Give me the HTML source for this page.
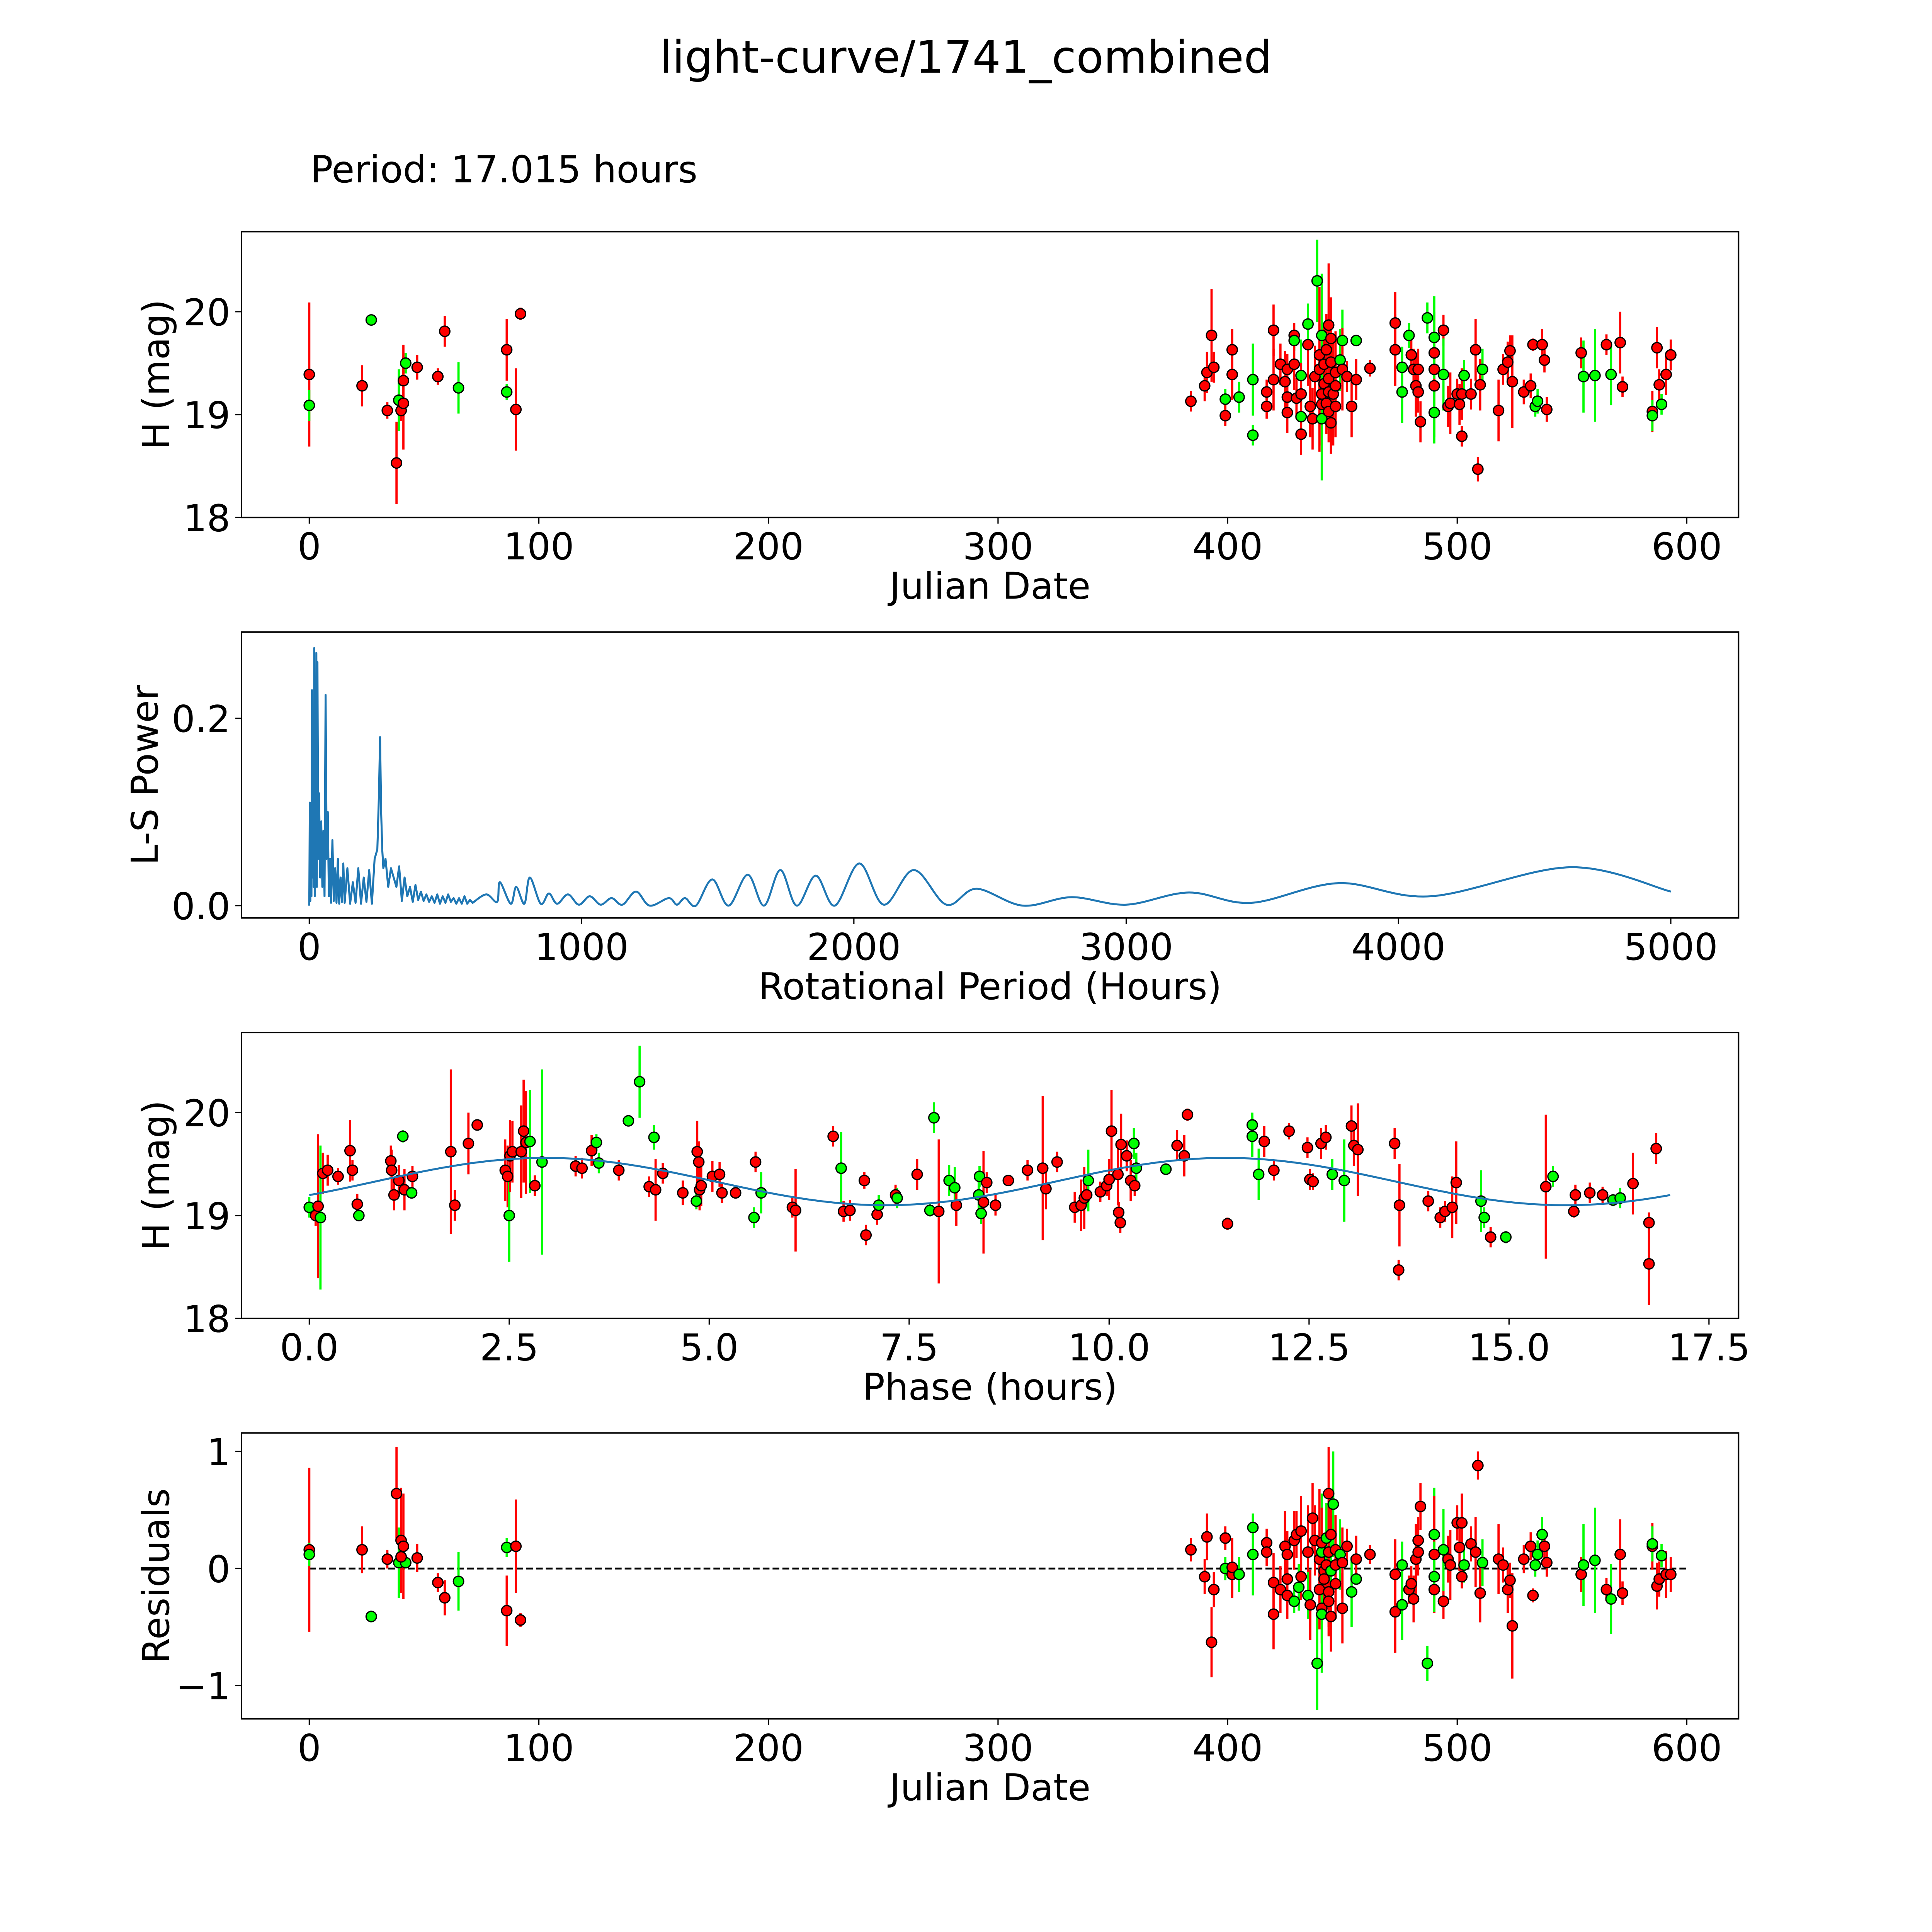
<!DOCTYPE html>
<html><head><meta charset="utf-8"><style>
html,body{margin:0;padding:0;background:#fff;overflow:hidden;width:100vw;height:100vh;}
svg{display:block;width:100vw;height:100vh;}
text{font-family:"DejaVu Sans","Liberation Sans",sans-serif;fill:#000;}
</style></head><body>
<svg id="fig" xmlns="http://www.w3.org/2000/svg" viewBox="0 0 1568 1568" preserveAspectRatio="xMinYMin meet">
<rect x="0" y="0" width="1568" height="1568" fill="#fff"/>
<text x="784" y="59" font-size="36.3" text-anchor="middle">light-curve/1741_combined</text>
<text x="252" y="148" font-size="30.2">Period: 17.015 hours</text>
</svg>
<script>
// ---- Data: [julian date, H mag, error, band] ----
const lcData = [
[0,19.39,0.7,'r'],[0,19.09,0.15,'g'],[23,19.28,0.2,'r'],[27,19.92,0.05,'g'],[34,19.04,0.08,'r'],[38,18.53,0.4,'r'],[39,19.14,0.3,'g'],[40,19.04,0.1,'r'],[41,19.11,0.45,'r'],[41,19.33,0.35,'r'],[42,19.5,0.1,'g'],[47,19.46,0.12,'r'],[56,19.37,0.08,'r'],[59,19.81,0.15,'r'],[65,19.26,0.25,'g'],
[86,19.63,0.3,'r'],[86,19.22,0.08,'g'],[90,19.05,0.4,'r'],[92,19.98,0.06,'r'],
[384,19.13,0.1,'r'],[390,19.28,0.15,'r'],[391,19.41,0.2,'r'],[393,19.77,0.45,'r'],[394,19.46,0.15,'r'],[399,19.15,0.1,'g'],[399,18.99,0.1,'r'],[402,19.63,0.2,'r'],[402,19.39,0.25,'r'],[405,19.17,0.15,'g'],[411,18.8,0.1,'g'],[411,19.34,0.35,'g'],
[417,19.22,0.12,'r'],[417,19.08,0.12,'r'],[420,19.82,0.25,'r'],[420,19.34,0.3,'r'],[423,19.49,0.2,'r'],[425,19.32,0.3,'r'],[426,19.44,0.15,'r'],[426,19.17,0.2,'r'],[426,19.02,0.2,'r'],[429,19.77,0.12,'r'],[429,19.72,0.1,'g'],[429,19.49,0.25,'r'],[430,19.16,0.2,'r'],[432,18.98,0.2,'g'],[432,19.38,0.35,'g'],[432,18.81,0.2,'r'],[432,19.2,0.3,'r'],
[435,19.68,0.4,'r'],[435,19.88,0.2,'g'],[436,19.08,0.3,'r'],[437,18.96,0.3,'r'],[438,19.37,0.3,'r'],[439,20.3,0.4,'g'],[440,19.44,0.8,'r'],[440,19.58,0.3,'r'],[441,19.2,0.3,'r'],[441,19.77,0.6,'g'],[441,19.1,0.4,'r'],[441,18.96,0.6,'g'],[442,19.3,0.3,'r'],[442,19.49,0.4,'r'],[443,19.63,0.35,'r'],[443,19.11,0.3,'r'],[444,19.22,0.3,'r'],[444,19.35,0.5,'r'],[444,19.03,0.3,'r'],[444,19.87,0.6,'r'],[445,19.74,0.4,'r'],[445,18.92,0.3,'r'],[445,19.51,0.3,'r'],[446,19.2,0.5,'r'],[447,19.41,0.4,'r'],[447,19.08,0.3,'r'],[447,19.28,0.3,'r'],[449,19.53,0.3,'g'],[450,19.72,0.3,'g'],[450,19.44,0.4,'r'],[452,19.37,0.15,'r'],[454,19.08,0.3,'r'],[456,19.72,0.05,'g'],[456,19.34,0.2,'r'],[462,19.45,0.08,'r'],
[473,19.89,0.3,'r'],[473,19.63,0.35,'r'],[476,19.22,0.3,'g'],[476,19.46,0.2,'g'],[479,19.77,0.12,'g'],[480,19.58,0.15,'r'],[481,19.44,0.2,'r'],[482,19.28,0.3,'r'],[483,19.22,0.2,'r'],[483,19.44,0.2,'r'],[484,18.93,0.2,'r'],[487,19.94,0.15,'g'],[490,19.6,0.4,'r'],[490,19.44,0.2,'r'],[490,19.28,0.5,'r'],[490,19.02,0.3,'g'],[490,19.75,0.4,'g'],[494,19.82,0.15,'r'],[494,19.39,0.35,'g'],[496,19.08,0.2,'r'],[497,19.11,0.3,'r'],[500,19.2,0.15,'r'],[501,19.1,0.2,'r'],[502,18.79,0.1,'r'],[502,19.2,0.25,'r'],[503,19.38,0.15,'g'],[506,19.2,0.15,'r'],[508,19.63,0.3,'r'],[509,18.47,0.12,'r'],[510,19.29,0.25,'r'],[511,19.44,0.2,'g'],
[518,19.04,0.3,'r'],[520,19.44,0.15,'r'],[522,19.51,0.2,'r'],[523,19.62,0.15,'r'],[524,19.32,0.45,'r'],[529,19.22,0.12,'r'],[532,19.28,0.12,'r'],[533,19.68,0.06,'r'],[534,19.08,0.1,'g'],[535,19.13,0.12,'g'],[537,19.68,0.15,'r'],[538,19.53,0.12,'r'],[539,19.05,0.12,'r'],[554,19.6,0.15,'r'],[555,19.37,0.35,'g'],[560,19.38,0.45,'g'],[565,19.68,0.1,'r'],[567,19.39,0.3,'g'],[571,19.7,0.3,'r'],[572,19.27,0.1,'r'],[585,19.03,0.2,'r'],[585,18.99,0.15,'g'],[587,19.65,0.2,'r'],[588,19.29,0.15,'r'],[589,19.1,0.1,'g'],[591,19.39,0.2,'r'],[593,19.58,0.15,'r']
];
// ---- Phase-folded data: [phase hours, H mag, error, band] ----
const phaseData = [
[0.0,19.08,0.1,'g'],[0.08,19.0,0.1,'r'],[0.11,19.09,0.7,'r'],[0.14,18.98,0.7,'g'],[0.17,19.41,0.2,'r'],[0.23,19.44,0.15,'r'],[0.36,19.38,0.08,'r'],[0.51,19.63,0.3,'r'],[0.54,19.44,0.1,'r'],[0.6,19.11,0.1,'r'],[0.62,19.0,0.05,'g'],
[1.02,19.53,0.15,'r'],[1.03,19.44,0.2,'r'],[1.06,19.2,0.15,'r'],[1.12,19.34,0.15,'r'],[1.17,19.77,0.06,'g'],[1.19,19.25,0.2,'r'],[1.28,19.22,0.05,'g'],[1.29,19.38,0.1,'r'],[1.77,19.62,0.8,'r'],[1.82,19.1,0.15,'r'],[1.99,19.7,0.3,'r'],[2.1,19.88,0.05,'r'],
[2.45,19.44,0.3,'r'],[2.48,19.38,0.3,'r'],[2.5,19.0,0.45,'g'],[2.51,19.58,0.35,'r'],[2.54,19.62,0.3,'r'],[2.65,19.62,0.45,'r'],[2.68,19.82,0.5,'r'],[2.71,19.71,0.5,'r'],[2.76,19.72,0.5,'g'],[2.82,19.29,0.1,'r'],[2.91,19.52,0.9,'g'],
[3.33,19.48,0.1,'r'],[3.41,19.46,0.1,'r'],[3.53,19.63,0.15,'r'],[3.59,19.71,0.08,'g'],[3.62,19.51,0.1,'g'],[3.87,19.44,0.1,'r'],[3.99,19.92,0.05,'g'],[4.13,20.3,0.35,'g'],[4.25,19.28,0.1,'r'],[4.31,19.76,0.12,'g'],[4.33,19.25,0.3,'r'],[4.42,19.41,0.1,'r'],
[4.67,19.22,0.12,'r'],[4.84,19.14,0.08,'g'],[4.85,19.62,0.3,'r'],[4.87,19.52,0.2,'r'],[4.88,19.25,0.2,'r'],[4.9,19.29,0.2,'r'],[5.04,19.38,0.15,'r'],[5.13,19.4,0.12,'r'],[5.16,19.22,0.1,'r'],[5.33,19.22,0.05,'r'],[5.56,18.98,0.1,'g'],[5.58,19.52,0.1,'r'],[5.65,19.22,0.2,'g'],
[6.04,19.08,0.1,'r'],[6.08,19.05,0.4,'r'],[6.55,19.77,0.1,'r'],[6.65,19.46,0.35,'g'],[6.68,19.04,0.1,'r'],[6.76,19.05,0.1,'r'],[6.94,19.34,0.08,'r'],[6.96,18.81,0.1,'r'],[7.1,19.01,0.1,'r'],[7.12,19.1,0.1,'g'],[7.33,19.2,0.1,'r'],[7.35,19.17,0.1,'g'],[7.6,19.4,0.15,'r'],[7.76,19.05,0.06,'g'],[7.81,19.95,0.15,'g'],[7.87,19.04,0.7,'r'],
[8.0,19.34,0.15,'g'],[8.07,19.27,0.2,'g'],[8.09,19.1,0.2,'r'],[8.37,19.2,0.2,'g'],[8.38,19.38,0.1,'g'],[8.4,19.02,0.1,'g'],[8.43,19.13,0.5,'r'],[8.47,19.32,0.1,'r'],[8.58,19.1,0.1,'r'],[8.74,19.34,0.05,'r'],[8.98,19.44,0.1,'r'],[9.17,19.46,0.7,'r'],[9.21,19.26,0.2,'r'],[9.35,19.52,0.1,'r'],
[9.57,19.08,0.15,'r'],[9.65,19.1,0.25,'r'],[9.69,19.17,0.3,'r'],[9.72,19.2,0.1,'r'],[9.74,19.34,0.3,'g'],[9.89,19.23,0.1,'r'],[9.97,19.29,0.1,'r'],[10.0,19.35,0.2,'r'],[10.03,19.82,0.4,'r'],[10.11,19.4,0.3,'r'],[10.12,19.03,0.1,'r'],[10.14,18.93,0.1,'r'],[10.15,19.69,0.3,'r'],[10.22,19.58,0.15,'r'],[10.27,19.34,0.2,'r'],[10.31,19.7,0.15,'g'],[10.32,19.29,0.1,'r'],[10.34,19.46,0.15,'g'],
[10.71,19.45,0.05,'g'],[10.85,19.68,0.15,'r'],[10.94,19.58,0.2,'r'],[10.98,19.98,0.06,'r'],[11.48,18.92,0.06,'r'],[11.79,19.88,0.12,'g'],[11.79,19.77,0.2,'g'],[11.87,19.4,0.25,'g'],[11.94,19.72,0.15,'r'],[12.06,19.44,0.1,'r'],[12.25,19.82,0.08,'r'],[12.48,19.66,0.1,'r'],[12.51,19.35,0.1,'r'],[12.55,19.33,0.08,'r'],[12.65,19.7,0.15,'r'],[12.71,19.76,0.12,'r'],[12.79,19.4,0.15,'g'],[12.94,19.34,0.4,'g'],[13.03,19.87,0.2,'r'],[13.06,19.68,0.2,'r'],[13.11,19.64,0.45,'r'],
[13.57,19.7,0.15,'r'],[13.63,19.1,0.4,'r'],[13.62,18.47,0.1,'r'],[13.99,19.14,0.1,'r'],[14.14,18.98,0.1,'r'],[14.2,19.04,0.1,'r'],[14.29,19.08,0.3,'r'],[14.34,19.32,0.4,'r'],[14.65,19.14,0.3,'g'],[14.69,18.98,0.1,'g'],[14.77,18.79,0.1,'r'],[14.96,18.79,0.06,'g'],[15.46,19.28,0.7,'r'],[15.55,19.38,0.1,'g'],[15.81,19.04,0.06,'r'],[15.83,19.2,0.1,'r'],[16.01,19.22,0.1,'r'],[16.17,19.2,0.08,'r'],[16.3,19.15,0.06,'g'],[16.39,19.17,0.1,'g'],[16.55,19.31,0.3,'r'],[16.75,18.93,0.1,'r'],[16.75,18.53,0.4,'r'],[16.84,19.65,0.15,'r']
];
// ---- Fitted model: mean + amplitude*cos(4*pi*(phase-peak)/period) ----
const modelPeriod = [17.015];
const modelCoeffs = [19.33, 0.23, 2.95];
// ---- Residuals: [julian date, residual, error, band] ----
const resData = [
[0,0.16,0.7,'r'],[0,0.12,0.1,'g'],[23,0.16,0.2,'r'],[27,-0.41,0.05,'g'],[34,0.08,0.08,'r'],[38,0.64,0.4,'r'],[40,0.24,0.45,'r'],[41,0.19,0.45,'r'],[39,0.05,0.3,'g'],[42,0.05,0.05,'g'],[40,0.1,0.1,'r'],[47,0.09,0.12,'r'],[56,-0.12,0.08,'r'],[59,-0.25,0.15,'r'],[65,-0.11,0.25,'g'],[86,0.18,0.08,'g'],[86,-0.36,0.3,'r'],[90,0.19,0.4,'r'],[92,-0.44,0.06,'r'],
[384,0.16,0.1,'r'],[390,-0.07,0.15,'r'],[391,0.27,0.2,'r'],[393,-0.63,0.3,'r'],[394,-0.18,0.15,'r'],[399,0.26,0.1,'r'],[399,0.0,0.1,'g'],[402,-0.05,0.2,'r'],[402,0.01,0.25,'r'],[405,-0.05,0.15,'g'],[411,0.35,0.1,'g'],[411,0.12,0.35,'g'],
[417,0.22,0.12,'r'],[417,0.14,0.12,'r'],[420,-0.12,0.25,'r'],[420,-0.39,0.3,'r'],[423,-0.18,0.2,'r'],[425,0.19,0.3,'r'],[426,-0.09,0.15,'r'],[426,-0.23,0.2,'r'],[426,0.12,0.2,'r'],[429,-0.28,0.1,'g'],[429,0.24,0.25,'r'],[430,0.29,0.2,'r'],[431,-0.16,0.2,'g'],[432,0.32,0.3,'r'],[432,-0.07,0.2,'r'],
[435,0.14,0.4,'r'],[435,-0.23,0.2,'g'],[436,-0.31,0.3,'r'],[437,0.43,0.3,'r'],[438,0.24,0.3,'r'],[439,-0.81,0.4,'g'],[440,0.08,0.6,'r'],[440,-0.18,0.3,'r'],[441,0.14,0.5,'g'],[441,-0.34,0.3,'r'],[441,0.22,0.3,'r'],[441,-0.39,0.5,'g'],[442,-0.02,0.3,'r'],[442,-0.09,0.3,'r'],[443,0.03,0.3,'r'],[443,0.26,0.3,'g'],[444,-0.2,0.3,'r'],[444,0.64,0.4,'r'],[444,-0.28,0.3,'r'],[444,0.14,0.4,'r'],[445,-0.41,0.3,'r'],[445,0.29,0.3,'r'],[445,-0.02,0.3,'g'],[446,0.55,0.45,'g'],[447,0.16,0.3,'r'],[447,0.03,0.3,'r'],[447,-0.13,0.3,'r'],[449,0.12,0.3,'g'],[450,-0.34,0.3,'r'],[450,0.05,0.3,'r'],[452,0.19,0.15,'r'],[454,-0.2,0.3,'g'],[456,-0.09,0.05,'g'],[456,0.08,0.2,'r'],[462,0.12,0.08,'r'],
[473,-0.05,0.3,'r'],[473,-0.37,0.35,'r'],[476,-0.31,0.3,'g'],[476,0.03,0.2,'g'],[479,-0.18,0.12,'r'],[480,-0.13,0.15,'r'],[481,-0.26,0.2,'r'],[482,0.08,0.3,'r'],[483,0.24,0.2,'r'],[483,0.14,0.2,'r'],[484,0.53,0.2,'r'],[487,-0.81,0.15,'g'],[490,0.29,0.4,'g'],[490,-0.18,0.2,'r'],[490,0.12,0.5,'r'],[490,-0.07,0.3,'g'],[494,-0.28,0.15,'r'],[494,0.16,0.35,'g'],[496,0.08,0.2,'r'],[497,0.03,0.3,'r'],[500,0.39,0.15,'r'],[501,0.18,0.2,'r'],[502,-0.07,0.1,'r'],[502,0.39,0.25,'r'],[503,0.03,0.15,'g'],[506,0.21,0.15,'r'],[508,0.14,0.3,'r'],[509,0.88,0.12,'r'],[510,-0.21,0.25,'r'],[511,0.05,0.2,'g'],
[518,0.08,0.3,'r'],[520,0.03,0.15,'r'],[522,-0.18,0.2,'r'],[523,-0.1,0.15,'r'],[524,-0.49,0.45,'r'],[529,0.08,0.12,'r'],[532,0.19,0.12,'r'],[533,-0.23,0.06,'r'],[534,0.03,0.1,'g'],[535,0.12,0.12,'g'],[537,0.29,0.15,'g'],[538,0.19,0.12,'r'],[539,0.05,0.12,'r'],[554,-0.05,0.15,'r'],[555,0.03,0.35,'g'],[560,0.07,0.45,'g'],[565,-0.18,0.1,'r'],[567,-0.26,0.3,'g'],[571,0.12,0.3,'r'],[572,-0.21,0.1,'r'],[585,0.19,0.2,'r'],[585,0.21,0.15,'g'],[587,-0.15,0.2,'r'],[588,-0.09,0.15,'r'],[589,0.11,0.1,'g'],[591,-0.05,0.2,'r'],[593,-0.05,0.15,'r']
];
// ---- Periodogram: spiky short-period region ----
const spikePeriods = [2,4,6,8,10,12,14,16,18,20,22,24,26,28,30,33,36,40,44,48,52,56,60,64,68,72,76,80,85,90,95,100,105,110,115,120,125,130,140,150,160,170,180,190,200,210,220,230,240,250,256,260,264,268,272,280,290,300,310,320,330,340,350,360,370,380,390,400,410,420,430,440,450,460,470,480,490,500,510,520,530,540,550,560,570,580,590];
const spikePowers  = [0.11,0.005,0.09,0.01,0.23,0.03,0.14,0.02,0.275,0.01,0.2,0.03,0.27,0.02,0.26,0.05,0.12,0.03,0.09,0.02,0.08,0.01,0.225,0.05,0.1,0.01,0.05,0.003,0.07,0.005,0.04,0.003,0.05,0.002,0.03,0.004,0.045,0.003,0.04,0.002,0.025,0.003,0.04,0.002,0.03,0.004,0.038,0.002,0.05,0.06,0.12,0.18,0.1,0.06,0.04,0.05,0.02,0.04,0.03,0.02,0.042,0.005,0.03,0.01,0.02,0.004,0.022,0.006,0.015,0.005,0.012,0.004,0.01,0.003,0.012,0.002,0.01,0.003,0.012,0.004,0.008,0.002,0.008,0.002,0.01,0.002,0.006];
// ---- Periodogram: smooth long-period region ----
const lsPeriods = [600,650,690,700,740,760,790,810,850,880,910,950,990,1030,1070,1110,1150,1200,1250,1320,1350,1380,1420,1480,1540,1610,1670,1730,1790,1860,1930,2020,2110,2220,2340,2450,2620,2800,3000,3230,3460,3780,4120,4630,5000];
const lsPowers  = [0.003,0.012,0.004,0.025,0.002,0.02,0.002,0.03,0.002,0.013,0.002,0.012,0.001,0.01,0.001,0.008,0.001,0.015,0.0,0.008,0.001,0.008,0.0,0.028,0.0,0.033,0.0,0.038,0.0,0.032,0.0,0.045,0.001,0.038,0.001,0.018,0.0,0.009,0.001,0.014,0.003,0.024,0.01,0.041,0.015];
// ---- Axis ticks ----
const jdTicks = [0,100,200,300,400,500,600];
const magTicks = [18,19,20];
const lsXTicks = [0,1000,2000,3000,4000,5000];
const lsYTicks = [0.0,0.2];
const lsYTickLabels = ['0.0','0.2'];
const phaseTicks = [0,2.5,5,7.5,10,12.5,15,17.5];
const phaseTickLabels = ['0.0','2.5','5.0','7.5','10.0','12.5','15.0','17.5'];
const resTicks = [-1,0,1];
const resTickLabels = ['\u22121','0','1'];

const NS='http://www.w3.org/2000/svg';
const svg=document.getElementById('fig');
function mk(tag,attrs,parent){const e=document.createElementNS(NS,tag);for(const k in attrs)e.setAttribute(k,attrs[k]);(parent||svg).appendChild(e);return e;}
function lin(d0,d1,p0,p1){return v=>p0+(v-d0)*(p1-p0)/(d1-d0);}
const L=196,R=1411;
const COL={r:'#ff0000',g:'#00ff00'};
const FS=30;

function axesFrame(name,top,bot,xs,ys,xt,xtl,yt,ytl,xlabel,ylabel,ylabX){
  const g=mk('g',{});
  
  
  xt.forEach((v,i)=>{const x=xs(v);
    const t=mk('line',{x1:x,x2:x,y1:bot,y2:bot+5,stroke:'#000','stroke-width':1},g);
    
    const tx=mk('text',{x:x,y:bot+34,'font-size':FS,'text-anchor':'middle'},g);tx.textContent=xtl[i];
    });
  yt.forEach((v,i)=>{const y=ys(v);
    const t=mk('line',{x1:L-5,x2:L,y1:y,y2:y,stroke:'#000','stroke-width':1},g);
    
    const tx=mk('text',{x:L-9,y:y+11,'font-size':FS,'text-anchor':'end'},g);tx.textContent=ytl[i];
    });
  const xl=mk('text',{x:(L+R)/2,y:bot+66,'font-size':FS,'text-anchor':'middle'},g);xl.textContent=xlabel;
  
  const cy=(top+bot)/2;
  const yl=mk('text',{x:ylabX,y:cy,'font-size':FS,'text-anchor':'middle',transform:`rotate(-90 ${ylabX} ${cy})`},g);yl.textContent=ylabel;
  
  return g;
}
function border(top,bot){const b=mk('rect',{x:L,y:top,width:R-L,height:bot-top,fill:'none',stroke:'#000','stroke-width':1.2});
  }
function clip(id,top,bot){const c=mk('clipPath',{id:id});mk('rect',{x:L,y:top,width:R-L,height:bot-top},c);}
function scatter(data,xs,ys,name,clipId){
  const g=mk('g',{'clip-path':`url(#${clipId})`});
  
  data.forEach(d=>{const x=xs(d[0]);
    const e=mk('line',{x1:x,x2:x,y1:ys(d[1]-d[2]),y2:ys(d[1]+d[2]),stroke:COL[d[3]],'stroke-width':1.8},g);
    });
  data.forEach(d=>{
    const c=mk('circle',{cx:xs(d[0]),cy:ys(d[1]),r:4.2,fill:COL[d[3]],stroke:'#000','stroke-width':1},g);
    });
}

// Panel 1: light curve
{const top=188,bot=420;const xs=lin(0,600,251,1369),ys=lin(18,20,420,253);
 clip('c1',top,bot);
 axesFrame('light-curve-axes',top,bot,xs,ys,jdTicks,jdTicks.map(String),magTicks,magTicks.map(String),'Julian Date','H (mag)',137);
 scatter(lcData,xs,ys,'light-curve-points','c1');border(top,bot);}

// Panel 2: periodogram
{const top=513,bot=745;const xs=lin(0,5000,251,1356),ys=lin(0,0.2,735,583);
 clip('c2',top,bot);
 axesFrame('periodogram-axes',top,bot,xs,ys,lsXTicks,lsXTicks.map(String),lsYTicks,lsYTickLabels,'Rotational Period (Hours)','L-S Power',128);
 let d='M'+xs(0)+','+ys(0);
 spikePeriods.forEach((p,i)=>{d+=' L'+xs(p).toFixed(2)+','+ys(spikePowers[i]).toFixed(2);});
 const pts=lsPeriods.map((p,i)=>[xs(p),ys(lsPowers[i])]);
 d+=' L'+pts[0][0].toFixed(2)+','+pts[0][1].toFixed(2);
 for(let i=0;i<pts.length-1;i++){const p0=pts[Math.max(0,i-1)],p1=pts[i],p2=pts[i+1],p3=pts[Math.min(pts.length-1,i+2)];
   const c1=[p1[0]+(p2[0]-p0[0])/6,p1[1]+(p2[1]-p0[1])/6],c2=[p2[0]-(p3[0]-p1[0])/6,p2[1]-(p3[1]-p1[1])/6];
   d+=` C${c1[0].toFixed(2)},${c1[1].toFixed(2)} ${c2[0].toFixed(2)},${c2[1].toFixed(2)} ${p2[0].toFixed(2)},${p2[1].toFixed(2)}`;}
 const ln=mk('path',{d:d,fill:'none',stroke:'#1f77b4','stroke-width':1.6,'stroke-linejoin':'round','clip-path':'url(#c2)'});
 
 border(top,bot);}

// Panel 3: phase folded
{const top=838,bot=1070;const xs=lin(0,17.5,251,1387),ys=lin(18,20,1070,903);
 clip('c3',top,bot);
 axesFrame('phase-axes',top,bot,xs,ys,phaseTicks,phaseTickLabels,magTicks,magTicks.map(String),'Phase (hours)','H (mag)',137);
 scatter(phaseData,xs,ys,'phase-points','c3');
 let d='';const P=modelPeriod[0];
 for(let i=0;i<=200;i++){const ph=P*i/200;const v=modelCoeffs[0]+modelCoeffs[1]*Math.cos(4*Math.PI*(ph-modelCoeffs[2])/P);
   d+=(i?' L':'M')+xs(ph).toFixed(2)+','+ys(v).toFixed(2);}
 const m=mk('path',{d:d,fill:'none',stroke:'#1f77b4','stroke-width':1.6,'clip-path':'url(#c3)'});
 
 border(top,bot);}

// Panel 4: residuals
{const top=1163,bot=1395;const xs=lin(0,600,251,1369),ys=lin(0,1,1273,1178);
 clip('c4',top,bot);
 axesFrame('residuals-axes',top,bot,xs,ys,jdTicks,jdTicks.map(String),resTicks,resTickLabels,'Julian Date','Residuals',137);
 const z=mk('line',{x1:xs(0),x2:xs(600),y1:ys(0),y2:ys(0),stroke:'#000','stroke-width':1.5,'stroke-dasharray':'5.5,2.5'});
 
 scatter(resData,xs,ys,'residual-points','c4');border(top,bot);}
</script>
</body></html>
